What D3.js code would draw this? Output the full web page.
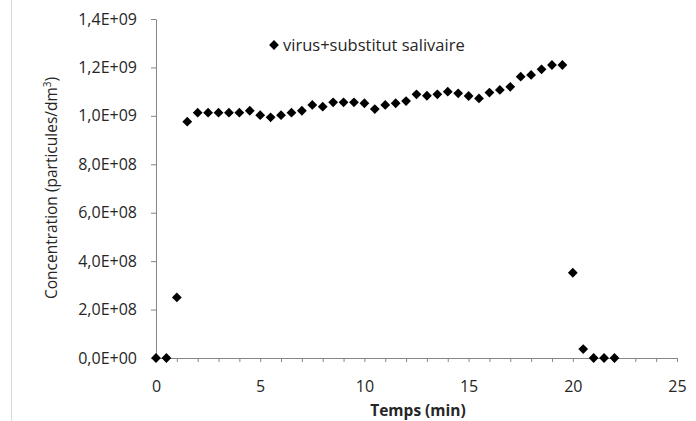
<!DOCTYPE html>
<html>
<head>
<meta charset="utf-8">
<script src="https://cdn.jsdelivr.net/npm/d3@7/dist/d3.min.js"></script>
<style>
  html, body { margin: 0; padding: 0; background: #fff; }
  svg { display: block; }
  text { font-family: "Open Sans", "DejaVu Sans", sans-serif; fill: #262626; }
</style>
</head>
<body>
<svg id="chart" width="696" height="421"></svg>
<script>
// ---- Data ----
const times = [0, 0.5, 1, 1.5, 2, 2.5, 3, 3.5, 4, 4.5, 5, 5.5, 6, 6.5, 7, 7.5, 8, 8.5, 9, 9.5,
               10, 10.5, 11, 11.5, 12, 12.5, 13, 13.5, 14, 14.5, 15, 15.5, 16, 16.5, 17, 17.5,
               18, 18.5, 19, 19.5, 20, 20.5, 21, 21.5, 22];
const concentrations = [0, 0, 2.50e8, 9.76e8, 1.013e9, 1.013e9, 1.013e9, 1.013e9, 1.013e9, 1.021e9,
               1.003e9, 0.994e9, 1.003e9, 1.013e9, 1.021e9, 1.045e9, 1.038e9, 1.056e9, 1.056e9, 1.056e9,
               1.052e9, 1.028e9, 1.045e9, 1.052e9, 1.061e9, 1.089e9, 1.083e9, 1.089e9, 1.100e9, 1.093e9,
               1.082e9, 1.072e9, 1.096e9, 1.107e9, 1.120e9, 1.162e9, 1.169e9, 1.192e9, 1.210e9, 1.210e9,
               3.52e8, 0.37e8, 0, 0, 0];
const seriesName = "virus+substitut salivaire";
const yTickValues = [0, 2e8, 4e8, 6e8, 8e8, 1.0e9, 1.2e9, 1.4e9];
const xTickValues = [0,1,2,3,4,5,6,7,8,9,10,11,12,13,14,15,16,17,18,19,20,21,22,23,24,25];
const xLabelValues = [0, 5, 10, 15, 20, 25];
const xTitle = "Temps (min)";
const yTitle = "Concentration (particules/dm";
const yTitleSup = "3";

// ---- Layout ----
const svg = d3.select("#chart");
const x = d3.scaleLinear().domain([0, 25]).range([156, 677]);
const y = d3.scaleLinear().domain([0, 1.4e9]).range([358, 19]);
const axisColor = "#868686";

function sci(v) {
  if (v === 0) return "0,0E+00";
  const e = Math.floor(Math.log10(v) + 1e-9);
  const m = (v / Math.pow(10, e)).toFixed(1).replace(".", ",");
  return m + "E+" + String(e).padStart(2, "0");
}

// left border line of chart frame
svg.append("line").attr("x1", 11.5).attr("x2", 11.5).attr("y1", 0).attr("y2", 421)
  .attr("stroke", "#d9d9d9").attr("stroke-width", 1);

// Y axis
const yAxis = svg.append("g").attr("transform", `translate(${x(0)},0)`)
  .call(d3.axisLeft(y).tickValues(yTickValues).tickFormat(sci).tickSize(5).tickSizeOuter(0).tickPadding(14));
yAxis.select(".domain").attr("stroke", axisColor);
yAxis.selectAll(".tick line").attr("stroke", axisColor);
yAxis.selectAll("text").attr("font-size", 16).attr("fill", "#262626")
  .attr("font-family", "'Open Sans', sans-serif");

// X axis
const xAxis = svg.append("g").attr("transform", `translate(0,${y(0)})`)
  .call(d3.axisBottom(x).tickValues(xTickValues)
    .tickFormat(d => xLabelValues.includes(d) ? d : "")
    .tickSize(4).tickSizeOuter(0).tickPadding(19));
xAxis.select(".domain").attr("stroke", axisColor);
xAxis.selectAll(".tick line").attr("stroke", axisColor);
xAxis.selectAll("text").attr("font-size", 16).attr("fill", "#262626")
  .attr("font-family", "'Open Sans', sans-serif");

// Axis titles
svg.append("text").attr("x", 418).attr("y", 416).attr("text-anchor", "middle")
  .attr("font-size", 15.5).attr("font-weight", "bold").text(xTitle);

const yt = svg.append("text").attr("transform", "translate(57,188) rotate(-90)")
  .attr("text-anchor", "middle").attr("font-size", 15.5);
yt.append("tspan").text(yTitle);
yt.append("tspan").attr("font-size", 10).attr("dy", -6).text(yTitleSup);
yt.append("tspan").attr("dy", 6).text(")");

// Markers (diamonds)
const diamond = d3.symbol().type(d3.symbolSquare).size(48);
svg.append("g").selectAll("path").data(times.map((t, i) => [t, concentrations[i]]))
  .join("path")
  .attr("d", diamond)
  .attr("transform", d => `translate(${x(d[0])},${y(d[1])}) rotate(45)`)
  .attr("fill", "#000");

// Legend
svg.append("path").attr("d", diamond)
  .attr("transform", "translate(274,45) rotate(45)").attr("fill", "#000");
svg.append("text").attr("x", 283).attr("y", 50.5).attr("font-size", 16.5).text(seriesName);
</script>
</body>
</html>
